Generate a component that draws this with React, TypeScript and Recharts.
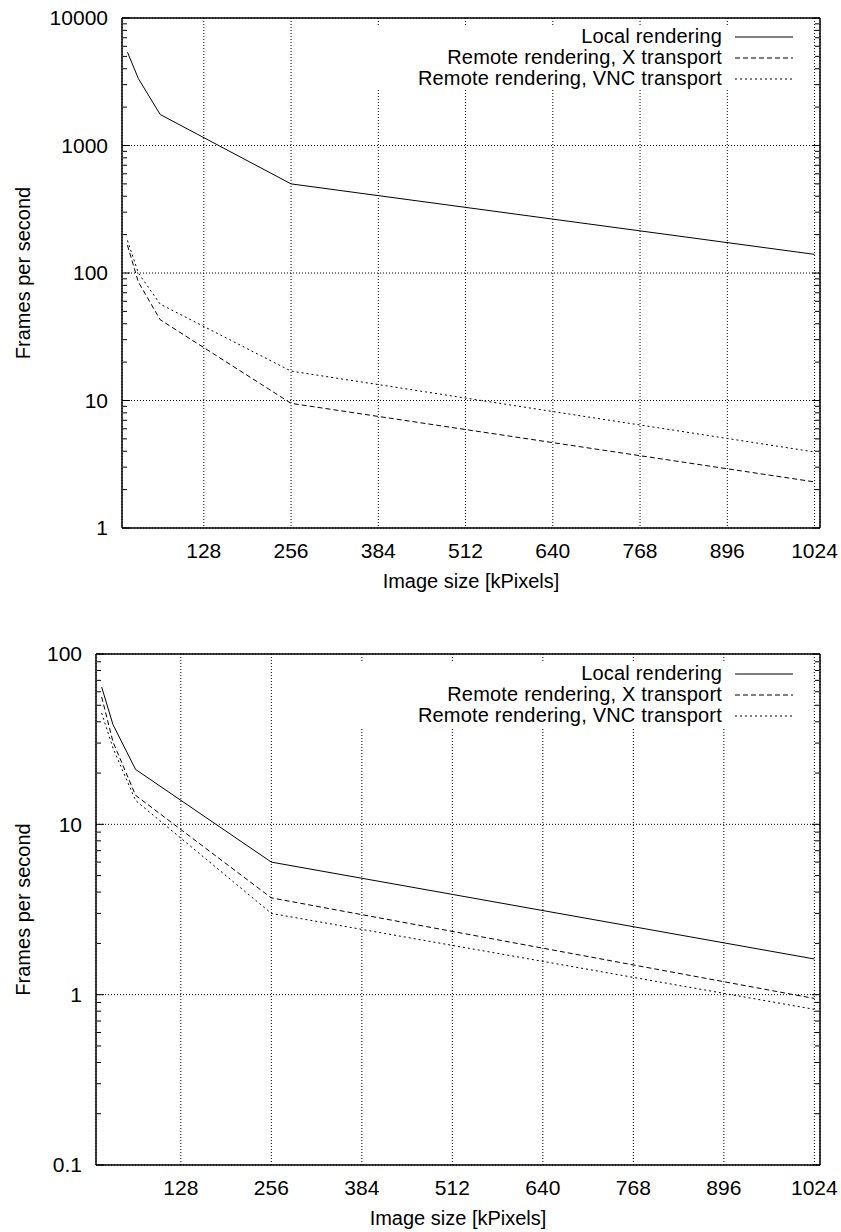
import React from 'react';
import { LineChart, Line, XAxis, YAxis, CartesianGrid, Legend, Label } from 'recharts';

// image sizes in kPixels (x positions of the measurements)
const imageSizes = [16, 32, 64, 256, 1024];
const xTicks = [128, 256, 384, 512, 640, 768, 896, 1024];

// upper plot
const localTop = [5400, 3350, 1750, 500, 140];
const xTransportTop = [165, 85, 43, 9.5, 2.3];
const vncTransportTop = [180, 100, 57, 17, 3.95];
const yTicksTop = [1, 10, 100, 1000, 10000];

// lower plot
const localBottom = [64, 38.5, 21, 6.0, 1.62];
const xTransportBottom = [56, 30.5, 14.8, 3.7, 0.95];
const vncTransportBottom = [45, 28, 13.8, 3.0, 0.82];
const yTicksBottom = [0.1, 1, 10, 100];

const seriesStyles = [
  { key: 'local', name: 'Local rendering', dash: undefined as string | undefined },
  { key: 'xt', name: 'Remote rendering, X transport', dash: '5 3' },
  { key: 'vnc', name: 'Remote rendering, VNC transport', dash: '2 3' },
];

const minorTicksFor = (majors: number[]) =>
  majors.slice(0, -1).flatMap((d) => [2, 3, 4, 5, 6, 7, 8, 9].map((k) => +(k * d).toPrecision(3)));

const FONT = "'Liberation Sans', Arial, Helvetica, sans-serif";
const blankTick = () => <g />;
const frame = { stroke: '#000', strokeWidth: 1.5 };

const renderLegend = () => (
  <div style={{ background: '#fff', fontSize: 20, lineHeight: '21px', color: '#000', fontFamily: FONT }}>
    {seriesStyles.map((s) => (
      <div
        key={s.key}
        style={{ display: 'flex', justifyContent: 'flex-end', alignItems: 'center', height: 21, paddingRight: 7 }}
      >
        <span style={{ letterSpacing: 0.2 }}>{s.name}</span>
        <svg width={58} height={4} style={{ marginLeft: 13 }}>
          <line x1={0} y1={2} x2={58} y2={2} stroke="#000" strokeWidth={1} strokeDasharray={s.dash} />
        </svg>
      </div>
    ))}
  </div>
);

const renderYTitle = (props: any) => {
  const vb = props.viewBox;
  const cx = vb.x + 23;
  const cy = vb.y + vb.height / 2;
  return (
    <text
      x={cx}
      y={cy}
      transform={`rotate(-90, ${cx}, ${cy})`}
      textAnchor="middle"
      dominantBaseline="central"
      fontSize={20}
      fill="#000"
    >
      Frames per second
    </text>
  );
};

const renderXTitle = (props: any) => {
  const vb = props.viewBox;
  return (
    <text
      x={vb.x + vb.width / 2}
      y={vb.y + 53}
      textAnchor="middle"
      dominantBaseline="central"
      fontSize={20}
      fill="#000"
    >
      Image size [kPixels]
    </text>
  );
};

interface FpsChartProps {
  local: number[];
  xTransport: number[];
  vnc: number[];
  yTicks: number[];
  height: number;
  marginTop: number;
  marginBottom: number;
  yAxisWidth: number;
  legendTop: number;
  legendLeft: number;
}

const FpsChart: React.FC<FpsChartProps> = ({
  local,
  xTransport,
  vnc,
  yTicks,
  height,
  marginTop,
  marginBottom,
  yAxisWidth,
  legendTop,
  legendLeft,
}) => {
  const data = imageSizes.map((size, i) => ({ size, local: local[i], xt: xTransport[i], vnc: vnc[i] }));
  const yDomain = [yTicks[0], yTicks[yTicks.length - 1]];
  const minor = minorTicksFor(yTicks);

  return (
    <LineChart
      width={841}
      height={height}
      data={data}
      margin={{ top: marginTop, right: 21, bottom: marginBottom, left: 0 }}
    >
      <CartesianGrid stroke="#000" strokeDasharray="1 2" />

      <XAxis
        dataKey="size"
        type="number"
        domain={[8, 1032]}
        ticks={xTicks}
        interval={0}
        allowDataOverflow
        height={60}
        tickLine={false}
        tickSize={0}
        tickMargin={15}
        axisLine={frame}
        tick={{ fill: '#000', fontSize: 21 }}
      >
        <Label content={renderXTitle} />
      </XAxis>
      {/* mirrored axes: inward tick marks and the top / right frame */}
      <XAxis xAxisId="bottomTicks" orientation="bottom" mirror type="number" domain={[8, 1032]}
        ticks={xTicks} interval={0} allowDataOverflow height={1} tickSize={8}
        tickLine={{ stroke: '#000' }} tick={blankTick} axisLine={false} />
      <XAxis xAxisId="topTicks" orientation="top" mirror type="number" domain={[8, 1032]}
        ticks={xTicks} interval={0} allowDataOverflow height={1} tickSize={8}
        tickLine={{ stroke: '#000' }} tick={blankTick} axisLine={frame} />

      <YAxis
        type="number"
        scale="log"
        domain={yDomain}
        ticks={yTicks}
        interval={0}
        allowDataOverflow
        width={yAxisWidth}
        tickLine={false}
        tickSize={0}
        tickMargin={14}
        axisLine={frame}
        tick={{ fill: '#000', fontSize: 21 }}
      >
        <Label content={renderYTitle} />
      </YAxis>
      <YAxis yAxisId="leftMajor" orientation="left" mirror type="number" scale="log" domain={yDomain}
        ticks={yTicks} interval={0} allowDataOverflow width={1} tickSize={8}
        tickLine={{ stroke: '#000' }} tick={blankTick} axisLine={false} />
      <YAxis yAxisId="leftMinor" orientation="left" mirror type="number" scale="log" domain={yDomain}
        ticks={minor} interval={0} allowDataOverflow width={1} tickSize={4}
        tickLine={{ stroke: '#000' }} tick={blankTick} axisLine={false} />
      <YAxis yAxisId="rightMajor" orientation="right" mirror type="number" scale="log" domain={yDomain}
        ticks={yTicks} interval={0} allowDataOverflow width={1} tickSize={8}
        tickLine={{ stroke: '#000' }} tick={blankTick} axisLine={frame} />
      <YAxis yAxisId="rightMinor" orientation="right" mirror type="number" scale="log" domain={yDomain}
        ticks={minor} interval={0} allowDataOverflow width={1} tickSize={4}
        tickLine={{ stroke: '#000' }} tick={blankTick} axisLine={false} />

      <Legend
        content={renderLegend}
        layout="vertical"
        align="center"
        verticalAlign="middle"
        wrapperStyle={{ top: legendTop, left: legendLeft, width: 800 - legendLeft, height: 64, background: '#fff' }}
      />

      {seriesStyles.map((s) => (
        <Line
          key={s.key}
          dataKey={s.key}
          name={s.name}
          type="linear"
          stroke="#000"
          strokeWidth={1}
          strokeDasharray={s.dash}
          dot={false}
          activeDot={false}
          isAnimationActive={false}
        />
      ))}
    </LineChart>
  );
};

export default function App() {
  return (
    <div style={{ position: 'absolute', left: 0, top: 0, width: 841, height: 1232, background: '#fff', fontFamily: FONT }}>
      <FpsChart
        local={localTop}
        xTransport={xTransportTop}
        vnc={vncTransportTop}
        yTicks={yTicksTop}
        height={600}
        marginTop={18}
        marginBottom={12}
        yAxisWidth={122}
        legendTop={26}
        legendLeft={360}
      />
      <FpsChart
        local={localBottom}
        xTransport={xTransportBottom}
        vnc={vncTransportBottom}
        yTicks={yTicksBottom}
        height={632}
        marginTop={54}
        marginBottom={7}
        yAxisWidth={96}
        legendTop={63}
        legendLeft={340}
      />
    </div>
  );
}
